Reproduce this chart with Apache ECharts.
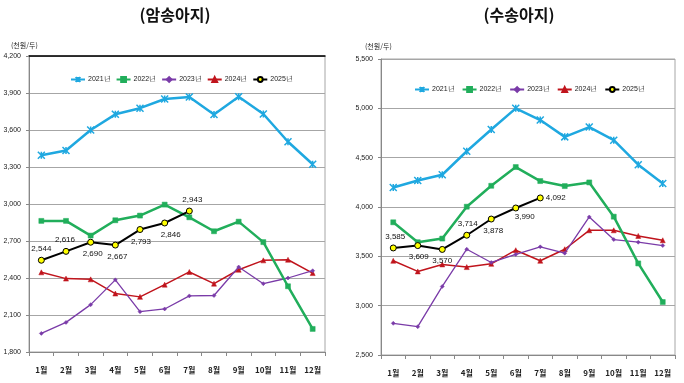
<!DOCTYPE html>
<html><head><meta charset="utf-8">
<script src="https://cdn.jsdelivr.net/npm/echarts@6/dist/echarts.min.js"></script>
<style>html,body{margin:0;padding:0;background:#fff}#c{width:684px;height:383px}</style>
</head><body><div id="c"></div>
<script>
const months = ['1월','2월','3월','4월','5월','6월','7월','8월','9월','10월','11월','12월'];
const years = ['2021년','2022년','2023년','2024년','2025년'];
const leftTitle = '(암송아지)';
const rightTitle = '(수송아지)';
const unitLabel = '(천원/두)';

// 암송아지 (heifer calves)
const heifer2021 = [3395,3434,3600,3727,3777,3851,3867,3725,3870,3730,3505,3322];
const heifer2022 = [2863,2863,2744,2868,2906,2995,2892,2779,2857,2691,2333,1987];
const heifer2023 = [1951,2040,2184,2385,2127,2149,2255,2258,2489,2354,2400,2459];
const heifer2024 = [2446,2395,2389,2274,2247,2346,2449,2354,2467,2543,2548,2440];
const heifer2025 = [2544,2616,2690,2667,2793,2846,2943];

// 수송아지 (bull calves)
const bull2021 = [4198,4269,4327,4565,4786,5000,4881,4711,4810,4677,4429,4238];
const bull2022 = [3845,3643,3680,4003,4215,4405,4263,4212,4249,3902,3428,3037];
const bull2023 = [2821,2787,3195,3572,3438,3519,3596,3532,3899,3670,3643,3609];
const bull2024 = [3455,3347,3418,3391,3424,3562,3455,3572,3764,3764,3707,3663];
const bull2025 = [3585,3609,3570,3714,3878,3990,4092];

const chart = echarts.init(document.getElementById('c'), null, {renderer:'canvas'});
const NUM_FONT = '"Liberation Sans Narrow","Liberation Sans",Arial,sans-serif';
const KR_FONT = '"Noto Sans CJK KR","Noto Sans",sans-serif';
const fmt = v => Number(v).toLocaleString('en-US');

const colors = ['#1FA8E0','#21AE5B','#7A3BA8','#C0141C','#000000'];
const xSym = 'path://M0,0L10,10M10,0L0,10M5,0L5,10';

function mkSeries(gi, data, labelCfg){
  const arr = [];
  const symbols = [xSym,'rect','diamond','triangle','circle'];
  const sizes = [7,5,4,5,6];
  const widths = [2.5,2.5,1.3,1.5,2];
  data.forEach((d, k) => {
    const s = {
      name: years[k], type:'line', xAxisIndex: gi, yAxisIndex: gi,
      data: d, symbol: symbols[k], symbolSize: sizes[k], showAllSymbol:true,
      lineStyle:{color: colors[k], width: widths[k]},
      itemStyle:{color: k===4 ? '#FFFF00' : colors[k], borderColor: colors[k], borderWidth: k===0?1.5:(k===4?1:0.5)},
      emphasis:{disabled:true}, animation:false, z: k===4?10:(5-k)
    };
    if (k===4){
      s.data = d.map((v,i)=>({value:v, label:{show:true, position: labelCfg[i][0], offset: labelCfg[i][1]}}));
      s.label = {show:true, formatter: p => fmt(p.value), fontSize:8, fontFamily: NUM_FONT, color:'#111', distance:4};
    }
    arr.push(s);
  });
  return arr;
}

const leftLabels = [['top',[0,0]],['top',[-1,0]],['bottom',[2,0]],['bottom',[2,0]],['bottom',[1,1]],['bottom',[6,0]],['top',[3,0]]];
const rightLabels = [['top',[2,0]],['bottom',[1,0]],['bottom',[0,0]],['top',[1,0]],['bottom',[2,0]],['bottom',[9,-3]],['right',[-2,0]]];

function xAx(gi, margin){
  return {type:'category', gridIndex: gi, data: months, boundaryGap:true,
    axisLine:{lineStyle:{color:'#888', width:1}},
    axisTick:{show:true, alignWithLabel:false, length:4, lineStyle:{color:'#888'}},
    axisLabel:{fontSize:8, fontWeight:'bold', color:'#222', fontFamily: KR_FONT, margin:margin, interval:0},
    splitLine:{show:false}};
}
function yAx(gi, min, max, interval){
  return {type:'value', gridIndex: gi, min, max, interval,
    axisLine:{show:true, lineStyle:{color:'#888'}},
    axisTick:{show:true, length:3, lineStyle:{color:'#888'}},
    axisLabel:{fontSize:7, color:'#222', fontFamily: NUM_FONT, margin:8, formatter: fmt},
    splitLine:{show:true, lineStyle:{color:'#a6a6a6', width:1}}};
}

const legendText = {fontSize:7, fontFamily:NUM_FONT, color:'#222', padding:[0,0,0,-2]};
const option = {
  animation:false,
  backgroundColor:'#fff',
  title:[
    {text:leftTitle, left:170, top:2, textAlign:'center', textStyle:{fontSize:16, fontWeight:'bold', fontFamily:KR_FONT, color:'#111'}},
    {text:rightTitle, left:514, top:2, textAlign:'center', textStyle:{fontSize:16, fontWeight:'bold', fontFamily:KR_FONT, color:'#111'}},
    {text:unitLabel, left:6, top:37, textStyle:{fontSize:7, fontWeight:'normal', fontFamily:KR_FONT, color:'#222'}},
    {text:unitLabel, left:360, top:38, textStyle:{fontSize:7, fontWeight:'normal', fontFamily:KR_FONT, color:'#222'}}
  ],
  legend:[
    {data: years, left:65, top:71, itemWidth:14, itemHeight:6, itemGap:5, textStyle:legendText},
    {data: years, left:409, top:81, itemWidth:14, itemHeight:6, itemGap:7, textStyle:legendText}
  ],
  grid:[
    {left:29, top:56, width:296, height:296, show:true, borderColor:'#a6a6a6', borderWidth:1, containLabel:false},
    {left:381, top:59, width:294, height:296, show:true, borderColor:'#a6a6a6', borderWidth:1, containLabel:false}
  ],
  xAxis:[xAx(0,14), xAx(1,14),
    {type:'category', gridIndex:0, position:'top', data: months, axisLine:{lineStyle:{color:'#000', width:1.5}}, axisTick:{show:false}, axisLabel:{show:false}}
  ],
  yAxis:[yAx(0,1800,4200,300), yAx(1,2500,5500,500)],
  series:[
    ...mkSeries(0,[heifer2021,heifer2022,heifer2023,heifer2024,heifer2025], leftLabels),
    ...mkSeries(1,[bull2021,bull2022,bull2023,bull2024,bull2025], rightLabels)
  ]
};
chart.setOption(option);
</script></body></html>
